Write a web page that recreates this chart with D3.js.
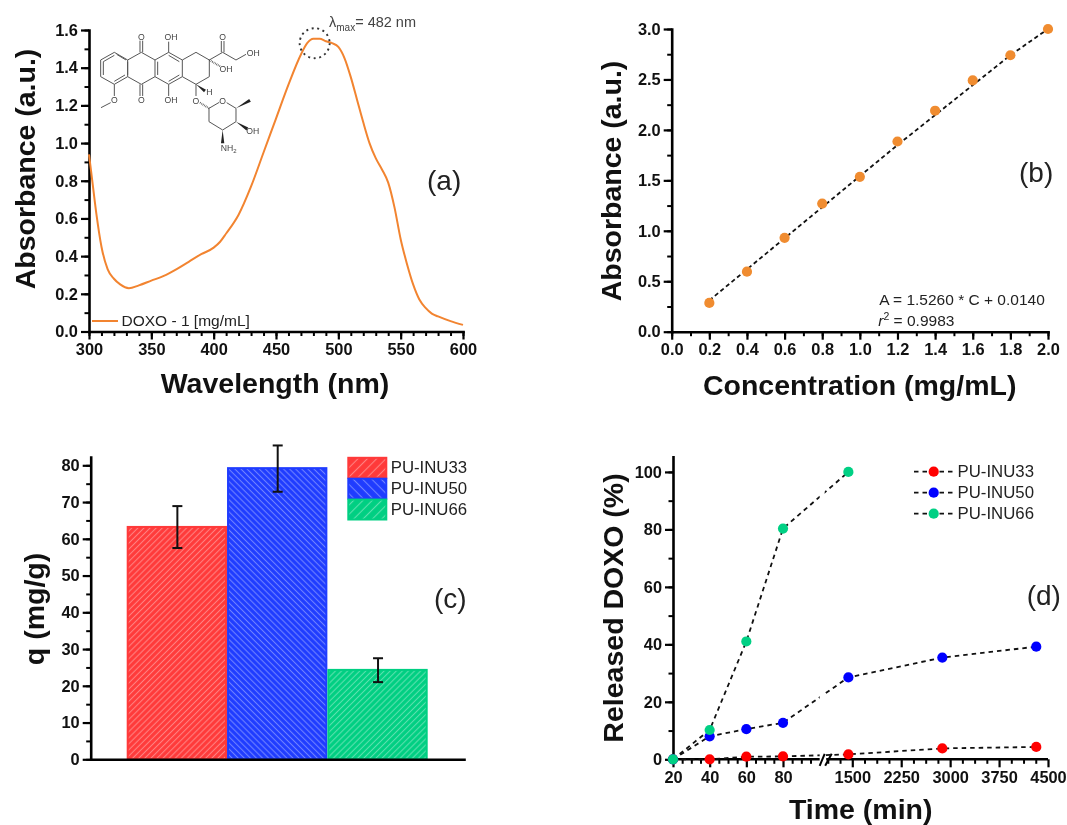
<!DOCTYPE html>
<html><head><meta charset="utf-8">
<script src="https://cdn.jsdelivr.net/npm/d3@7/dist/d3.min.js"></script>
<style>
html,body{margin:0;padding:0;background:#fff}
svg{display:block;filter:blur(0.35px)}
text{font-family:"Liberation Sans",Arial,sans-serif;fill:#111}
.tick text{font-weight:700;font-size:16.4px;fill:#111}
.title{font-weight:700;font-size:28.5px}
.panel{font-size:28px;fill:#222}
.note{font-size:15.5px;fill:#222}
.leg{font-size:16.8px;fill:#222}
</style></head><body>
<svg id="c" width="1067" height="825"></svg>
<script>
// (a) UV-Vis spectrum
const specWave=[300,303,306,310,315,320,325,332,340,350,360,370,380,390,400,405,410,420,430,440,450,460,470,475,480,485,490,495,500,505,510,515,520,525,530,535,540,545,550,555,560,565,570,575,580,590,600];
const specAbs=[0.94,0.78,0.62,0.45,0.33,0.28,0.25,0.23,0.245,0.27,0.295,0.33,0.37,0.41,0.445,0.475,0.52,0.62,0.77,0.95,1.13,1.31,1.47,1.53,1.553,1.553,1.54,1.53,1.51,1.45,1.35,1.23,1.11,1.00,0.92,0.86,0.79,0.66,0.49,0.36,0.25,0.17,0.125,0.095,0.08,0.055,0.035];
// (b) calibration
const calConc=[0.2,0.4,0.6,0.8,1.0,1.2,1.4,1.6,1.8,2.0];
const calAbs=[0.285,0.595,0.93,1.27,1.535,1.885,2.19,2.49,2.74,3.0];
const fitConc=[0.2,1.2,1.8,2.0];
const fitAbs=[0.31,1.85,2.74,3.0];
// (c) loading
const sampleNames=["PU-INU33","PU-INU50","PU-INU66"];
const loadingQ=[63.5,79.5,24.6];
const loadingLow=[57.5,72.8,21];
const loadingHigh=[68.9,85.4,27.5];
const barColors=["#ff3a3a","#1f3cff","#00cf82"];
// (d) release
const timeMin=[20,40,60,80,1440,2880,4320];
const release33=[0,0,0.9,1,1.7,3.8,4.3];
const release50=[0,8,10.5,12.7,28.5,35.4,39.2];
const release66=[0,10.2,41,80.3,100];
const dotColors=["#ff0000","#0000ff","#00d084"];
// tick labels
const timeTicks=[20,40,60,80,1500,2250,3000,3750,4500];
const timeMinor=[25,30,35,45,50,55,65,70,75,85,90,95,1125,1312.5,1687.5,1875,2062.5,2437.5,2625,2812.5,3187.5,3375,3562.5,3937.5,4125,4312.5];
// doxorubicin skeleton drawing (decoration, in its own local units)
const molBonds=[[32,135,73,112],[73,112,113,135],[113,135,113,185],[113,185,73,208],[73,208,32,185],[32,185,32,135],
[40,140,73,121],[40,180,40,140],[73,199,105,180],[80,118,108,135],
[113,135,154,112],[154,112,195,135],[195,135,195,185],[195,185,154,208],[154,208,113,185],[113,140,113,180],
[195,135,236,112],[236,112,277,135],[277,135,277,185],[277,185,236,208],[236,208,195,185],[203,140,203,180],[236,121,268,140],[236,199,268,180],
[277,135,318,112],[318,112,358,135],[358,135,358,185],[358,185,318,208],[318,208,277,185],
[150,112,150,77],[158,112,158,77],[150,208,150,243],[158,208,158,243],[236,112,236,80],[236,208,236,243],
[73,208,73,243],[62,263,33,278],[358,135,398,112],[394,112,394,78],[402,112,402,78],[398,112,438,135],[438,135,468,118],
[318,208,318,243],[388,262,357,280],[357,280,357,320],[357,320,398,345],[398,345,438,320],[438,320,438,280],[438,280,410,263]];
const molWedges=[[318,208,345,228],[438,280,480,256],[438,320,472,342],[398,345,398,385]];
const molHash=[[358,135,392,155],[330,263,357,280]];
const molLabels=[["O",154,67],["OH",243,67],["OH",490,114],["O",398,67],["OH",408,162],["H",358,232],["O",154,256],["OH",243,256],["O",73,256],["O",318,257],["O",398,257],["OH",488,349]];

const svg=d3.select("#c");
const defs=svg.append("defs");
function hatch(id,color,angle,size){
  const p=defs.append("pattern").attr("id",id).attr("patternUnits","userSpaceOnUse").attr("width",size).attr("height",size).attr("patternTransform",`rotate(${angle})`);
  p.append("rect").attr("width",size).attr("height",size).attr("fill",color);
  p.append("line").attr("x1",0).attr("x2",size).attr("y1",size/2).attr("y2",size/2).attr("stroke","#fff").attr("stroke-opacity",0.36).attr("stroke-width",1.1);
}
const angles=[-45,45,-45];
barColors.forEach((c,i)=>{hatch("h"+i,c,angles[i],4.3);hatch("l"+i,c,angles[i],6.6);});

function axes(g,x,y,o){
  const xa=d3.axisBottom(x).tickSizeInner(8).tickSizeOuter(0).tickPadding(4).tickValues(o.xt).tickFormat(o.xf);
  const ya=d3.axisLeft(y).tickSizeInner(8).tickSizeOuter(0).tickPadding(3).tickValues(o.yt).tickFormat(o.yf);
  const yy=y.range()[0],xx=x.range()[0];
  if(o.xm) g.append("g").attr("transform",`translate(0,${yy})`).call(d3.axisBottom(x).tickSizeInner(4.5).tickSizeOuter(0).tickValues(o.xm).tickFormat("")).call(s=>s.select(".domain").remove()).selectAll("line").attr("stroke-width",2);
  g.append("g").attr("transform",`translate(${xx},0)`).call(d3.axisLeft(y).tickSizeInner(4.5).tickSizeOuter(0).tickValues(o.ym).tickFormat("")).call(s=>s.select(".domain").remove()).selectAll("line").attr("stroke-width",2);
  const gx=g.append("g").attr("transform",`translate(0,${yy})`).call(xa);
  const gy=g.append("g").attr("transform",`translate(${xx},0)`).call(ya);
  [gx,gy].forEach(s=>{s.selectAll(".tick line").attr("stroke-width",2.2);s.select(".domain").attr("stroke-width",2.6).attr("stroke-linecap","square");});
  return gx;
}
function title(t,x,y,rot){
  const s=svg.append("text").attr("class","title").attr("text-anchor","middle").text(t);
  if(rot) s.attr("transform",`translate(${x},${y}) rotate(-90)`); else s.attr("x",x).attr("y",y);
}
function panel(t,x,y){svg.append("text").attr("class","panel").attr("x",x).attr("y",y).text(t);}
const f1=d3.format(".1f"), fd=d3.format("d");

// ---- (a)
{
  const x=d3.scaleLinear().domain([300,600]).range([89,463]);
  const y=d3.scaleLinear().domain([0,1.6]).range([331.5,30]);
  const g=svg.append("g");
  axes(g,x,y,{xt:d3.range(300,601,50),xm:d3.range(300,601,10),xf:fd,yt:d3.range(0,1.61,0.2),ym:d3.range(0,1.61,0.1),yf:f1});
  g.append("path").datum(specWave.map((w,i)=>[w,specAbs[i]])).attr("fill","none").attr("stroke","#f28430").attr("stroke-width",2)
   .attr("d",d3.line().x(d=>x(d[0])).y(d=>y(d[1])).curve(d3.curveMonotoneX));
  g.append("circle").attr("cx",x(481)).attr("cy",y(1.53)).attr("r",15).attr("fill","none").attr("stroke","#333").attr("stroke-width",1.9).attr("stroke-dasharray","2 3.6");
  const lab=svg.append("text").attr("x",329).attr("y",27).attr("font-size",14.5).attr("fill","#444").style("fill","#444");
  lab.append("tspan").text("λ");
  lab.append("tspan").attr("font-size",10).attr("dy",4).text("max");
  lab.append("tspan").attr("dy",-4).text("= 482 nm");
  g.append("line").attr("x1",92).attr("x2",118).attr("y1",321).attr("y2",321).attr("stroke","#f28430").attr("stroke-width",2);
  svg.append("text").attr("class","note").attr("x",121.5).attr("y",326).text("DOXO - 1 [mg/mL]");
  title("Wavelength (nm)",275,393);
  title("Absorbance (a.u.)",35,169,true);
  panel("(a)",427,190);
  // molecule
  const m=svg.append("g").attr("transform","translate(90,15) scale(0.3333)");
  m.selectAll("line.b").data(molBonds).join("line").attr("x1",d=>d[0]).attr("y1",d=>d[1]).attr("x2",d=>d[2]).attr("y2",d=>d[3]).attr("stroke","#555").attr("stroke-width",3);
  m.selectAll("path.w").data(molWedges).join("path").attr("fill","#222").attr("d",d=>{
    const dx=d[2]-d[0],dy=d[3]-d[1],l=Math.hypot(dx,dy),nx=-dy/l*5,ny=dx/l*5;
    return `M${d[0]},${d[1]}L${d[2]+nx},${d[3]+ny}L${d[2]-nx},${d[3]-ny}Z`;});
  m.selectAll("line.h").data(molHash).join("line").attr("x1",d=>d[0]).attr("y1",d=>d[1]).attr("x2",d=>d[2]).attr("y2",d=>d[3]).attr("stroke","#444").attr("stroke-width",6).attr("stroke-dasharray","2 3");
  m.selectAll("text").data(molLabels).join("text").attr("x",d=>d[1]).attr("y",d=>d[2]+9).attr("text-anchor","middle").attr("font-size",26).style("fill","#444").text(d=>d[0]);
  const nh=m.append("text").attr("x",392).attr("y",407).attr("font-size",26).style("fill","#444");
  nh.append("tspan").text("NH"); nh.append("tspan").attr("font-size",18).attr("dy",6).text("2");
}
// ---- (b)
{
  const x=d3.scaleLinear().domain([0,2]).range([671.7,1048]);
  const y=d3.scaleLinear().domain([0,3]).range([331.7,29]);
  const g=svg.append("g");
  axes(g,x,y,{xt:d3.range(0,2.01,0.2),xm:d3.range(0,2.01,0.1),xf:f1,yt:d3.range(0,3.01,0.5),ym:d3.range(0,3.01,0.25),yf:f1});
  g.append("path").datum(fitConc.map((c,i)=>[c,fitAbs[i]])).attr("fill","none").attr("stroke","#111").attr("stroke-width",1.8).attr("stroke-dasharray","4.2 3")
   .attr("d",d3.line().x(d=>x(d[0])).y(d=>y(d[1])));
  g.selectAll("circle").data(calConc).join("circle").attr("cx",d=>x(d)).attr("cy",(d,i)=>y(calAbs[i])).attr("r",5.1).attr("fill","#f08c30");
  svg.append("text").attr("class","note").attr("x",879.3).attr("y",305).text("A = 1.5260 * C + 0.0140");
  const r=svg.append("text").attr("class","note").attr("x",878.3).attr("y",326);
  r.append("tspan").attr("font-style","italic").text("r");
  r.append("tspan").attr("font-size",10.5).attr("dy",-6).text("2");
  r.append("tspan").attr("dy",6).text(" = 0.9983");
  title("Concentration (mg/mL)",859.7,395);
  title("Absorbance (a.u.)",620.7,181,true);
  panel("(b)",1019,181.7);
}
// ---- (c)
{
  const y=d3.scaleLinear().domain([0,82.26]).range([759.3,457]);
  const x=d3.scaleBand().domain(sampleNames).range([126.7,427.7]).padding(0);
  const g=svg.append("g");
  g.selectAll("rect").data(sampleNames).join("rect").attr("x",d=>x(d)+1).attr("width",x.bandwidth()-2)
    .attr("y",(d,i)=>y(loadingQ[i])+1).attr("height",(d,i)=>y(0)-y(loadingQ[i])-1)
    .attr("fill",(d,i)=>`url(#h${i})`).attr("stroke",(d,i)=>barColors[i]).attr("stroke-width",2);
  const ax=d3.scaleLinear().domain([0,1]).range([90.7,464]);
  axes(g,ax,y,{xt:[],xf:fd,yt:d3.range(0,81,10),ym:d3.range(0,81,5),yf:fd});
  const e=g.selectAll("g.err").data(sampleNames).join("g").attr("class","err").attr("stroke","#111").attr("stroke-width",2);
  e.append("line").attr("x1",d=>x(d)+x.bandwidth()/2+0.5).attr("x2",d=>x(d)+x.bandwidth()/2+0.5).attr("y1",(d,i)=>y(loadingLow[i])).attr("y2",(d,i)=>y(loadingHigh[i]));
  e.append("line").attr("x1",d=>x(d)+x.bandwidth()/2-4.5).attr("x2",d=>x(d)+x.bandwidth()/2+5.5).attr("y1",(d,i)=>y(loadingLow[i])).attr("y2",(d,i)=>y(loadingLow[i]));
  e.append("line").attr("x1",d=>x(d)+x.bandwidth()/2-4.5).attr("x2",d=>x(d)+x.bandwidth()/2+5.5).attr("y1",(d,i)=>y(loadingHigh[i])).attr("y2",(d,i)=>y(loadingHigh[i]));
  const ly=d3.scaleBand().domain(sampleNames).range([457.3,520]);
  g.selectAll("rect.l").data(sampleNames).join("rect").attr("class","l").attr("x",348.3).attr("width",38).attr("y",d=>ly(d)+0.5).attr("height",ly.bandwidth()-1)
    .attr("fill",(d,i)=>`url(#l${i})`).attr("stroke",(d,i)=>barColors[i]).attr("stroke-width",2);
  svg.selectAll("text.lc").data(sampleNames).join("text").attr("class","leg lc").attr("x",390.7).attr("y",d=>ly(d)+15.6).text(d=>d);
  title("q (mg/g)",44,609,true);
  panel("(c)",434,608);
}
// ---- (d)
{
  const x=d3.scaleLinear().domain([20,100,1000,4500]).range([673,819.67,819.67,1048]);
  const y=d3.scaleLinear().domain([0,105.3]).range([759.3,456.7]);
  const g=svg.append("g");
  const gx=axes(g,x,y,{xt:timeTicks,xm:timeMinor,xf:fd,yt:d3.range(0,101,20),ym:d3.range(0,101,10),yf:fd});
  gx.select(".domain").remove();
  const gapL=x(100), gapR=x(1100);
  gx.append("line").attr("x1",x(20)).attr("x2",gapL).attr("stroke","#000").attr("stroke-width",2.6);
  gx.append("line").attr("x1",gapR).attr("x2",x(4500)).attr("stroke","#000").attr("stroke-width",2.6);
  [[0,5],[5.5,12]].forEach(b=>{
    gx.append("line").attr("x1",gapL+b[0]).attr("x2",gapL+b[1]).attr("y1",6.5).attr("y2",-5.5).attr("stroke","#000").attr("stroke-width",2);
  });
  const clip=defs.append("clipPath").attr("id","brk");
  clip.append("rect").attr("x",0).attr("y",0).attr("width",gapL).attr("height",825);
  clip.append("rect").attr("x",gapL+5).attr("y",0).attr("width",300).attr("height",825);
  const series=[release33,release50,release66];
  const line=d3.line().x(d=>x(d[0])).y(d=>y(d[1]));
  series.forEach(s=>{
    g.append("path").datum(s.map((v,i)=>[timeMin[i],v])).attr("clip-path","url(#brk)").attr("fill","none").attr("stroke","#111").attr("stroke-width",1.8).attr("stroke-dasharray","4.5 4").attr("d",line);
  });
  series.forEach((s,k)=>{
    g.append("g").selectAll("circle").data(s).join("circle").attr("cx",(d,i)=>x(timeMin[i])).attr("cy",d=>y(d)).attr("r",5.1).attr("fill",dotColors[k]);
  });
  const ly=d3.scalePoint().domain(sampleNames).range([471.7,513.7]);
  g.selectAll("line.l").data(sampleNames).join("line").attr("class","l").attr("x1",914).attr("x2",954).attr("y1",d=>ly(d)).attr("y2",d=>ly(d)).attr("stroke","#111").attr("stroke-width",1.8).attr("stroke-dasharray","4.5 4");
  g.selectAll("circle.l").data(sampleNames).join("circle").attr("class","l").attr("cx",933.7).attr("cy",d=>ly(d)).attr("r",5.1).attr("fill",(d,i)=>dotColors[i]);
  svg.selectAll("text.ld").data(sampleNames).join("text").attr("class","leg ld").attr("x",957.5).attr("y",d=>ly(d)+5.5).text(d=>d);
  title("Time (min)",860.7,818.5);
  title("Released DOXO (%)",623,608,true);
  panel("(d)",1026.7,605);
}
</script>
</body></html>
